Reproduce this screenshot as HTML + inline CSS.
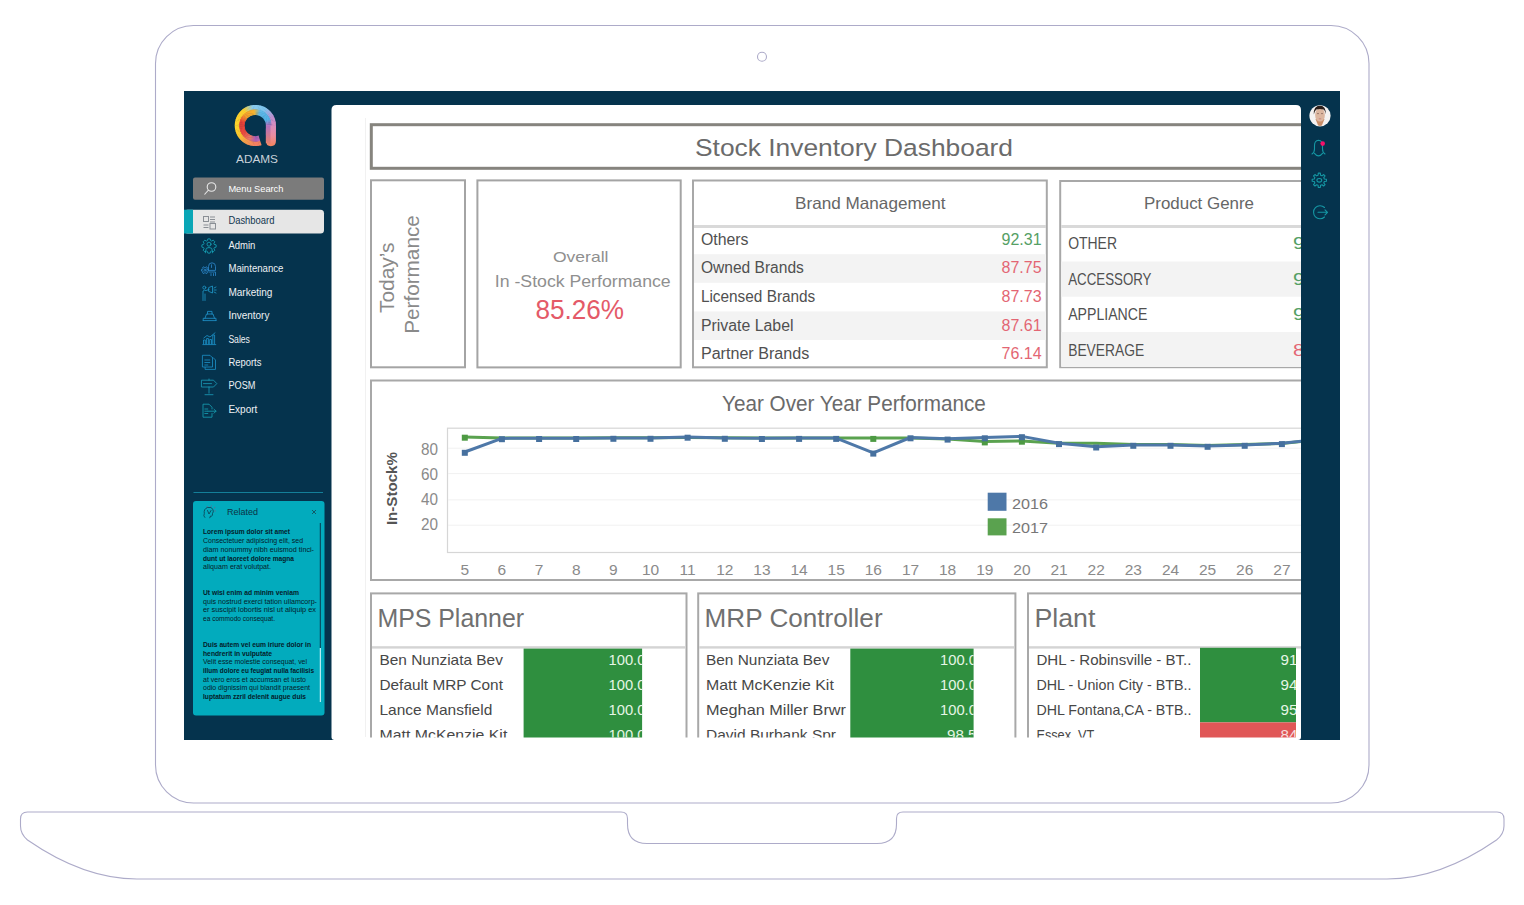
<!DOCTYPE html>
<html><head><meta charset="utf-8">
<style>
html,body{margin:0;padding:0;background:#fff;width:1524px;height:905px;overflow:hidden}
svg{display:block;font-family:"Liberation Sans",sans-serif}
</style></head>
<body>
<svg width="1524" height="905" viewBox="0 0 1524 905">
<defs>
<clipPath id="panelclip"><rect x="331.5" y="105" width="969.5" height="632.5"/></clipPath>
</defs>
<!-- laptop frame -->
<g fill="none" stroke="#adabc9" stroke-width="1.1">
<rect x="155.5" y="25.5" width="1213.5" height="777.5" rx="38"/>
<circle cx="762" cy="56.7" r="4.5"/>
<path d="M27.5 812 L621 812 Q627.5 812 627.5 818.5 L627.5 824 Q627.5 843.5 647 843.5 L877 843.5 Q896.5 843.5 896.5 824 L896.5 818.5 Q896.5 812 903 812 L1497 812 Q1504 812 1504 819 L1504 826 Q1504 834 1496.5 840 Q1440 879 1387 879 L137 879 Q84 879 27.5 840 Q20.5 834 20.5 826 L20.5 819 Q20.5 812 27.5 812 Z"/>
</g>
<!-- screen -->
<rect x="184" y="91" width="1156" height="649" fill="#05334d"/>

<!-- sidebar -->
<g id="logo">
<path d="M275.95 125.21 L275.88 127.22 L271.09 126.82 L271.15 125.28 Z" fill="#d98dbd"/>
<path d="M275.92 126.65 L275.71 128.65 L270.96 127.92 L271.13 126.38 Z" fill="#db8db9"/>
<path d="M275.79 128.08 L275.44 130.06 L270.76 129.00 L271.03 127.48 Z" fill="#de8db5"/>
<path d="M275.56 129.50 L275.07 131.45 L270.48 130.07 L270.85 128.57 Z" fill="#e08db1"/>
<path d="M275.23 130.90 L274.61 132.82 L270.12 131.11 L270.60 129.64 Z" fill="#e28dac"/>
<path d="M274.80 132.27 L274.05 134.14 L269.69 132.13 L270.27 130.70 Z" fill="#e58da8"/>
<path d="M274.28 133.62 L273.40 135.42 L269.20 133.11 L269.87 131.72 Z" fill="#e78da4"/>
<path d="M273.67 134.92 L272.67 136.66 L268.63 134.06 L269.40 132.72 Z" fill="#ea8da0"/>
<path d="M272.97 136.17 L271.85 137.84 L268.00 134.96 L268.86 133.68 Z" fill="#eb8b96"/>
<path d="M272.18 137.37 L270.94 138.96 L267.31 135.82 L268.26 134.61 Z" fill="#ec8a8d"/>
<path d="M271.31 138.52 L269.97 140.02 L266.56 136.63 L267.59 135.49 Z" fill="#ee8984"/>
<path d="M270.37 139.60 L268.92 141.00 L265.76 137.39 L266.87 136.32 Z" fill="#ef887b"/>
<path d="M269.35 140.61 L267.80 141.91 L264.90 138.09 L266.09 137.09 Z" fill="#f08772"/>
<path d="M268.26 141.55 L266.63 142.74 L264.00 138.72 L265.25 137.81 Z" fill="#f28569"/>
<path d="M267.11 142.42 L265.40 143.48 L263.06 139.29 L264.37 138.47 Z" fill="#f38460"/>
<path d="M265.90 143.19 L264.12 144.14 L262.08 139.80 L263.44 139.07 Z" fill="#f4835c"/>
<path d="M264.64 143.89 L262.80 144.71 L261.06 140.23 L262.47 139.60 Z" fill="#f4835d"/>
<path d="M263.33 144.49 L261.44 145.18 L260.02 140.59 L261.47 140.07 Z" fill="#f4825e"/>
<path d="M261.99 145.00 L260.05 145.56 L258.96 140.88 L260.44 140.46 Z" fill="#f4815e"/>
<path d="M260.61 145.42 L258.64 145.84 L257.88 141.10 L259.39 140.78 Z" fill="#f4815f"/>
<path d="M259.21 145.74 L257.22 146.02 L256.78 141.23 L258.31 141.02 Z" fill="#f48060"/>
<path d="M257.79 145.96 L255.78 146.10 L255.68 141.30 L257.22 141.19 Z" fill="#f47f61"/>
<path d="M256.36 146.08 L254.34 146.08 L254.58 141.28 L256.12 141.28 Z" fill="#f47f62"/>
<path d="M254.92 146.10 L252.91 145.96 L253.48 141.19 L255.02 141.30 Z" fill="#f4825f"/>
<path d="M253.48 146.02 L251.49 145.74 L252.39 141.02 L253.92 141.23 Z" fill="#f4865c"/>
<path d="M252.06 145.84 L250.09 145.42 L251.31 140.78 L252.82 141.10 Z" fill="#f48a59"/>
<path d="M250.65 145.56 L248.71 145.00 L250.26 140.46 L251.74 140.88 Z" fill="#f48e57"/>
<path d="M249.26 145.18 L247.37 144.49 L249.23 140.07 L250.68 140.59 Z" fill="#f59154"/>
<path d="M247.90 144.71 L246.06 143.89 L248.23 139.60 L249.64 140.23 Z" fill="#f59551"/>
<path d="M246.58 144.14 L244.80 143.19 L247.26 139.07 L248.62 139.80 Z" fill="#f5994e"/>
<path d="M245.30 143.48 L243.59 142.42 L246.33 138.47 L247.64 139.29 Z" fill="#f59d4c"/>
<path d="M244.07 142.74 L242.44 141.55 L245.45 137.81 L246.70 138.72 Z" fill="#f6a148"/>
<path d="M242.90 141.91 L241.35 140.61 L244.61 137.09 L245.80 138.09 Z" fill="#f7a844"/>
<path d="M241.78 141.00 L240.33 139.60 L243.83 136.32 L244.94 137.39 Z" fill="#f8ae3f"/>
<path d="M240.73 140.02 L239.39 138.52 L243.11 135.49 L244.14 136.63 Z" fill="#f9b43b"/>
<path d="M239.76 138.96 L238.52 137.37 L242.44 134.61 L243.39 135.82 Z" fill="#fabb36"/>
<path d="M238.85 137.84 L237.73 136.17 L241.84 133.68 L242.70 134.96 Z" fill="#fbc132"/>
<path d="M238.03 136.66 L237.03 134.92 L241.30 132.72 L242.07 134.06 Z" fill="#fcc82e"/>
<path d="M237.30 135.42 L236.42 133.62 L240.83 131.72 L241.50 133.11 Z" fill="#fcc92d"/>
<path d="M236.65 134.14 L235.90 132.27 L240.43 130.70 L241.01 132.13 Z" fill="#fccb2d"/>
<path d="M236.09 132.82 L235.47 130.90 L240.10 129.64 L240.58 131.11 Z" fill="#fccc2d"/>
<path d="M235.63 131.45 L235.14 129.50 L239.85 128.57 L240.22 130.07 Z" fill="#fcce2c"/>
<path d="M235.26 130.06 L234.91 128.08 L239.67 127.48 L239.94 129.00 Z" fill="#fcd02c"/>
<path d="M234.99 128.65 L234.78 126.65 L239.57 126.38 L239.74 127.92 Z" fill="#fcd12c"/>
<path d="M234.82 127.22 L234.75 125.21 L239.55 125.28 L239.61 126.82 Z" fill="#fcd32c"/>
<path d="M234.75 125.79 L234.82 123.78 L239.61 124.18 L239.55 125.72 Z" fill="#fdd32c"/>
<path d="M234.78 124.35 L234.99 122.35 L239.74 123.08 L239.57 124.62 Z" fill="#fdd32c"/>
<path d="M234.91 122.92 L235.26 120.94 L239.94 122.00 L239.67 123.52 Z" fill="#fdd32c"/>
<path d="M235.14 121.50 L235.63 119.55 L240.22 120.93 L239.85 122.43 Z" fill="#fdd22d"/>
<path d="M235.47 120.10 L236.09 118.18 L240.58 119.89 L240.10 121.36 Z" fill="#fdd22d"/>
<path d="M235.90 118.73 L236.65 116.86 L241.01 118.87 L240.43 120.30 Z" fill="#fdd22d"/>
<path d="M236.42 117.38 L237.30 115.58 L241.50 117.89 L240.83 119.28 Z" fill="#fdd22d"/>
<path d="M237.03 116.08 L238.03 114.34 L242.07 116.94 L241.30 118.28 Z" fill="#fdd12e"/>
<path d="M237.73 114.83 L238.85 113.16 L242.70 116.04 L241.84 117.32 Z" fill="#fdd12e"/>
<path d="M238.52 113.63 L239.76 112.04 L243.39 115.18 L242.44 116.39 Z" fill="#fdd12e"/>
<path d="M239.39 112.48 L240.73 110.98 L244.14 114.37 L243.11 115.51 Z" fill="#fdd02f"/>
<path d="M240.33 111.40 L241.78 110.00 L244.94 113.61 L243.83 114.68 Z" fill="#fdd02f"/>
<path d="M241.35 110.39 L242.90 109.09 L245.80 112.91 L244.61 113.91 Z" fill="#fdd02f"/>
<path d="M242.44 109.45 L244.07 108.26 L246.70 112.28 L245.45 113.19 Z" fill="#fdd02f"/>
<path d="M243.59 108.58 L245.30 107.52 L247.64 111.71 L246.33 112.53 Z" fill="#f0cf45"/>
<path d="M244.80 107.81 L246.58 106.86 L248.62 111.20 L247.26 111.93 Z" fill="#dfce61"/>
<path d="M246.06 107.11 L247.90 106.29 L249.64 110.77 L248.23 111.40 Z" fill="#cecd7d"/>
<path d="M247.37 106.51 L249.26 105.82 L250.68 110.41 L249.23 110.93 Z" fill="#bdcd99"/>
<path d="M248.71 106.00 L250.65 105.44 L251.74 110.12 L250.26 110.54 Z" fill="#acccb5"/>
<path d="M250.09 105.58 L252.06 105.16 L252.82 109.90 L251.31 110.22 Z" fill="#9bcbd1"/>
<path d="M251.49 105.26 L253.48 104.98 L253.92 109.77 L252.39 109.98 Z" fill="#8acbee"/>
<path d="M252.91 105.04 L254.92 104.90 L255.02 109.70 L253.48 109.81 Z" fill="#88caee"/>
<path d="M254.34 104.92 L256.36 104.92 L256.12 109.72 L254.58 109.72 Z" fill="#87c9ee"/>
<path d="M255.78 104.90 L257.79 105.04 L257.22 109.81 L255.68 109.70 Z" fill="#86c9ee"/>
<path d="M257.22 104.98 L259.21 105.26 L258.31 109.98 L256.78 109.77 Z" fill="#84c8ee"/>
<path d="M258.64 105.16 L260.61 105.58 L259.39 110.22 L257.88 109.90 Z" fill="#83c8ee"/>
<path d="M260.05 105.44 L261.99 106.00 L260.44 110.54 L258.96 110.12 Z" fill="#82c7ee"/>
<path d="M261.44 105.82 L263.33 106.51 L261.47 110.93 L260.02 110.41 Z" fill="#81c7ee"/>
<path d="M262.80 106.29 L264.64 107.11 L262.47 111.40 L261.06 110.77 Z" fill="#7fc6ee"/>
<path d="M264.12 106.86 L265.90 107.81 L263.44 111.93 L262.08 111.20 Z" fill="#7ec6ee"/>
<path d="M265.40 107.52 L267.11 108.58 L264.37 112.53 L263.06 111.71 Z" fill="#81c2ec"/>
<path d="M266.63 108.26 L268.26 109.45 L265.25 113.19 L264.00 112.28 Z" fill="#89bce8"/>
<path d="M267.80 109.09 L269.35 110.39 L266.09 113.91 L264.90 112.91 Z" fill="#90b6e5"/>
<path d="M268.92 110.00 L270.37 111.40 L266.87 114.68 L265.76 113.61 Z" fill="#98b0e2"/>
<path d="M269.97 110.98 L271.31 112.48 L267.59 115.51 L266.56 114.37 Z" fill="#9faade"/>
<path d="M270.94 112.04 L272.18 113.63 L268.26 116.39 L267.31 115.18 Z" fill="#a7a4db"/>
<path d="M271.85 113.16 L272.97 114.83 L268.86 117.32 L268.00 116.04 Z" fill="#af9dd7"/>
<path d="M272.67 114.34 L273.67 116.08 L269.40 118.28 L268.63 116.94 Z" fill="#b697d4"/>
<path d="M273.40 115.58 L274.28 117.38 L269.87 119.28 L269.20 117.89 Z" fill="#be91d0"/>
<path d="M274.05 116.86 L274.80 118.73 L270.27 120.30 L269.69 118.87 Z" fill="#c28fce"/>
<path d="M274.61 118.18 L275.23 120.10 L270.60 121.36 L270.12 119.89 Z" fill="#c68fcb"/>
<path d="M275.07 119.55 L275.56 121.50 L270.85 122.43 L270.48 120.93 Z" fill="#ca8fc8"/>
<path d="M275.44 120.94 L275.79 122.92 L271.03 123.52 L270.76 122.00 Z" fill="#ce8ec6"/>
<path d="M275.71 122.35 L275.92 124.35 L271.13 124.62 L270.96 123.08 Z" fill="#d28ec3"/>
<path d="M275.88 123.78 L275.95 125.79 L271.15 125.72 L271.09 124.18 Z" fill="#d68ec1"/>
<path d="M271.45 125.28 L271.39 126.85 L265.71 126.37 L265.75 125.35 Z" fill="#b070c0"/>
<path d="M271.42 126.40 L271.26 127.96 L265.63 127.09 L265.73 126.08 Z" fill="#b170c0"/>
<path d="M271.32 127.52 L271.05 129.07 L265.49 127.80 L265.67 126.80 Z" fill="#b270c0"/>
<path d="M271.14 128.63 L270.76 130.15 L265.31 128.51 L265.55 127.52 Z" fill="#b370c0"/>
<path d="M270.89 129.72 L270.40 131.22 L265.07 129.19 L265.39 128.23 Z" fill="#b471c0"/>
<path d="M270.55 130.79 L269.97 132.25 L264.79 129.86 L265.17 128.92 Z" fill="#b571c0"/>
<path d="M270.15 131.84 L269.46 133.26 L264.46 130.51 L264.91 129.60 Z" fill="#b671c0"/>
<path d="M269.67 132.86 L268.88 134.22 L264.09 131.13 L264.60 130.25 Z" fill="#b872c0"/>
<path d="M269.12 133.84 L268.24 135.14 L263.68 131.73 L264.25 130.89 Z" fill="#bb73bd"/>
<path d="M268.51 134.78 L267.54 136.02 L263.22 132.30 L263.85 131.49 Z" fill="#be75bb"/>
<path d="M267.83 135.68 L266.77 136.84 L262.73 132.83 L263.41 132.07 Z" fill="#c177b9"/>
<path d="M267.09 136.52 L265.95 137.61 L262.20 133.33 L262.93 132.62 Z" fill="#c479b7"/>
<path d="M266.29 137.31 L265.08 138.32 L261.64 133.78 L262.42 133.13 Z" fill="#c87bb5"/>
<path d="M265.44 138.05 L264.17 138.97 L261.04 134.20 L261.87 133.61 Z" fill="#cb7db3"/>
<path d="M264.54 138.72 L263.20 139.55 L260.42 134.58 L261.29 134.04 Z" fill="#ce7fb1"/>
<path d="M263.59 139.33 L262.21 140.07 L259.78 134.91 L260.68 134.43 Z" fill="#cd7db0"/>
<path d="M262.61 139.87 L261.17 140.51 L259.11 135.20 L260.04 134.78 Z" fill="#c878b1"/>
<path d="M261.59 140.34 L260.11 140.88 L258.43 135.43 L259.38 135.09 Z" fill="#c274b2"/>
<path d="M260.54 140.74 L259.03 141.17 L257.72 135.63 L258.70 135.35 Z" fill="#bd6fb3"/>
<path d="M259.46 141.07 L257.92 141.39 L257.01 135.77 L258.01 135.55 Z" fill="#b86ab4"/>
<path d="M258.37 141.31 L256.81 141.53 L256.29 135.86 L257.30 135.72 Z" fill="#b265b5"/>
<path d="M257.26 141.49 L255.69 141.60 L255.57 135.90 L256.58 135.83 Z" fill="#ad60b6"/>
<path d="M256.14 141.58 L254.56 141.58 L254.84 135.89 L255.86 135.89 Z" fill="#a85cb8"/>
<path d="M255.01 141.60 L253.44 141.49 L254.12 135.83 L255.13 135.90 Z" fill="#b360aa"/>
<path d="M253.89 141.53 L252.33 141.31 L253.40 135.72 L254.41 135.86 Z" fill="#be659d"/>
<path d="M252.78 141.39 L251.24 141.07 L252.69 135.55 L253.69 135.77 Z" fill="#ca6a90"/>
<path d="M251.67 141.17 L250.16 140.74 L252.00 135.35 L252.98 135.63 Z" fill="#d56f83"/>
<path d="M250.59 140.88 L249.11 140.34 L251.32 135.09 L252.27 135.43 Z" fill="#e07476"/>
<path d="M249.53 140.51 L248.09 139.87 L250.66 134.78 L251.59 135.20 Z" fill="#ec7869"/>
<path d="M248.49 140.07 L247.11 139.33 L250.02 134.43 L250.92 134.91 Z" fill="#ee7562"/>
<path d="M247.50 139.55 L246.16 138.72 L249.41 134.04 L250.28 134.58 Z" fill="#ee705e"/>
<path d="M246.53 138.97 L245.26 138.05 L248.83 133.61 L249.66 134.20 Z" fill="#ee6a59"/>
<path d="M245.62 138.32 L244.41 137.31 L248.28 133.13 L249.06 133.78 Z" fill="#ee6554"/>
<path d="M244.75 137.61 L243.61 136.52 L247.77 132.62 L248.50 133.33 Z" fill="#ee5f50"/>
<path d="M243.93 136.84 L242.87 135.68 L247.29 132.07 L247.97 132.83 Z" fill="#ee5a4b"/>
<path d="M243.16 136.02 L242.19 134.78 L246.85 131.49 L247.48 132.30 Z" fill="#ee5447"/>
<path d="M242.46 135.14 L241.58 133.84 L246.45 130.89 L247.02 131.73 Z" fill="#ee4f42"/>
<path d="M241.82 134.22 L241.03 132.86 L246.10 130.25 L246.61 131.13 Z" fill="#ee4a3e"/>
<path d="M241.24 133.26 L240.55 131.84 L245.79 129.60 L246.24 130.51 Z" fill="#ee493d"/>
<path d="M240.73 132.25 L240.15 130.79 L245.53 128.92 L245.91 129.86 Z" fill="#ee483c"/>
<path d="M240.30 131.22 L239.81 129.72 L245.31 128.23 L245.63 129.19 Z" fill="#ee473c"/>
<path d="M239.94 130.15 L239.56 128.63 L245.15 127.52 L245.39 128.51 Z" fill="#ee463b"/>
<path d="M239.65 129.07 L239.38 127.52 L245.03 126.80 L245.21 127.80 Z" fill="#ee453b"/>
<path d="M239.44 127.96 L239.28 126.40 L244.97 126.08 L245.07 127.09 Z" fill="#ee443a"/>
<path d="M239.31 126.85 L239.25 125.28 L244.95 125.35 L244.99 126.37 Z" fill="#ee433a"/>
<path d="M239.25 125.72 L239.31 124.15 L244.99 124.63 L244.95 125.65 Z" fill="#ee4239"/>
<path d="M239.28 124.60 L239.44 123.04 L245.07 123.91 L244.97 124.92 Z" fill="#ee4239"/>
<path d="M239.38 123.48 L239.65 121.93 L245.21 123.20 L245.03 124.20 Z" fill="#ee4138"/>
<path d="M239.56 122.37 L239.94 120.85 L245.39 122.49 L245.15 123.48 Z" fill="#ee4038"/>
<path d="M239.81 121.28 L240.30 119.78 L245.63 121.81 L245.31 122.77 Z" fill="#ef4936"/>
<path d="M240.15 120.21 L240.73 118.75 L245.91 121.14 L245.53 122.08 Z" fill="#f15635"/>
<path d="M240.55 119.16 L241.24 117.74 L246.24 120.49 L245.79 121.40 Z" fill="#f26333"/>
<path d="M241.03 118.14 L241.82 116.78 L246.61 119.87 L246.10 120.75 Z" fill="#f37032"/>
<path d="M241.58 117.16 L242.46 115.86 L247.02 119.27 L246.45 120.11 Z" fill="#f47c30"/>
<path d="M242.19 116.22 L243.16 114.98 L247.48 118.70 L246.85 119.51 Z" fill="#f5892e"/>
<path d="M242.87 115.32 L243.93 114.16 L247.97 118.17 L247.29 118.93 Z" fill="#f7962d"/>
<path d="M243.61 114.48 L244.75 113.39 L248.50 117.67 L247.77 118.38 Z" fill="#f8a02c"/>
<path d="M244.41 113.69 L245.62 112.68 L249.06 117.22 L248.28 117.87 Z" fill="#f8a22c"/>
<path d="M245.26 112.95 L246.53 112.03 L249.66 116.80 L248.83 117.39 Z" fill="#f8a42c"/>
<path d="M246.16 112.28 L247.50 111.45 L250.28 116.42 L249.41 116.96 Z" fill="#f8a62c"/>
<path d="M247.11 111.67 L248.49 110.93 L250.92 116.09 L250.02 116.57 Z" fill="#f8a82c"/>
<path d="M248.09 111.13 L249.53 110.49 L251.59 115.80 L250.66 116.22 Z" fill="#f8ab2d"/>
<path d="M249.11 110.66 L250.59 110.12 L252.27 115.57 L251.32 115.91 Z" fill="#f8ad2d"/>
<path d="M250.16 110.26 L251.67 109.83 L252.98 115.37 L252.00 115.65 Z" fill="#f8af2d"/>
<path d="M251.24 109.93 L252.78 109.61 L253.69 115.23 L252.69 115.45 Z" fill="#f8b12d"/>
<path d="M252.33 109.69 L253.89 109.47 L254.41 115.14 L253.40 115.28 Z" fill="#f8b32d"/>
<path d="M253.44 109.51 L255.01 109.40 L255.13 115.10 L254.12 115.17 Z" fill="#f2b535"/>
<path d="M254.56 109.42 L256.14 109.42 L255.86 115.11 L254.84 115.11 Z" fill="#dab653"/>
<path d="M255.69 109.40 L257.26 109.51 L256.58 115.17 L255.57 115.10 Z" fill="#c2b771"/>
<path d="M256.81 109.47 L258.37 109.69 L257.30 115.28 L256.29 115.14 Z" fill="#aab88f"/>
<path d="M257.92 109.61 L259.46 109.93 L258.01 115.45 L257.01 115.23 Z" fill="#92b9ad"/>
<path d="M259.03 109.83 L260.54 110.26 L258.70 115.65 L257.72 115.37 Z" fill="#7abacb"/>
<path d="M260.11 110.12 L261.59 110.66 L259.38 115.91 L258.43 115.57 Z" fill="#62bbea"/>
<path d="M261.17 110.49 L262.61 111.13 L260.04 116.22 L259.11 115.80 Z" fill="#60bae9"/>
<path d="M262.21 110.93 L263.59 111.67 L260.68 116.57 L259.78 116.09 Z" fill="#5fb9e9"/>
<path d="M263.20 111.45 L264.54 112.28 L261.29 116.96 L260.42 116.42 Z" fill="#5eb9e9"/>
<path d="M264.17 112.03 L265.44 112.95 L261.87 117.39 L261.04 116.80 Z" fill="#5db8e9"/>
<path d="M265.08 112.68 L266.29 113.69 L262.42 117.87 L261.64 117.22 Z" fill="#5cb8e9"/>
<path d="M265.95 113.39 L267.09 114.48 L262.93 118.38 L262.20 117.67 Z" fill="#5bb7e8"/>
<path d="M266.77 114.16 L267.83 115.32 L263.41 118.93 L262.73 118.17 Z" fill="#59b7e8"/>
<path d="M267.54 114.98 L268.51 116.22 L263.85 119.51 L263.22 118.70 Z" fill="#58b6e8"/>
<path d="M268.24 115.86 L269.12 117.16 L264.25 120.11 L263.68 119.27 Z" fill="#57b6e8"/>
<path d="M268.88 116.78 L269.67 118.14 L264.60 120.75 L264.09 119.87 Z" fill="#56b5e8"/>
<path d="M269.46 117.74 L270.15 119.16 L264.91 121.40 L264.46 120.49 Z" fill="#55b5e8"/>
<path d="M269.97 118.75 L270.55 120.21 L265.17 122.08 L264.79 121.14 Z" fill="#5face3"/>
<path d="M270.40 119.78 L270.89 121.28 L265.39 122.77 L265.07 121.81 Z" fill="#6ea1dc"/>
<path d="M270.76 120.85 L271.14 122.37 L265.55 123.48 L265.31 122.49 Z" fill="#7d96d6"/>
<path d="M271.05 121.93 L271.32 123.48 L265.67 124.20 L265.49 123.20 Z" fill="#8b8bd0"/>
<path d="M271.26 123.04 L271.42 124.60 L265.73 124.92 L265.63 123.91 Z" fill="#9a80c9"/>
<path d="M271.39 124.15 L271.45 125.72 L265.75 125.65 L265.71 124.63 Z" fill="#a875c3"/>
<linearGradient id="tailo" x1="0" y1="0" x2="0" y2="1"><stop offset="0" stop-color="#d88ec0"/><stop offset="0.5" stop-color="#ea8da0"/><stop offset="1" stop-color="#f4845c"/></linearGradient>
<linearGradient id="taili" x1="0" y1="0" x2="0" y2="1"><stop offset="0" stop-color="#b070c0"/><stop offset="1" stop-color="#e8806a"/></linearGradient>
<path d="M266 125.5 H275.95 V141 Q275.95 146.2 270.8 146.2 Q266 146.2 266 141 Z" fill="url(#tailo)"/>
<path d="M265.8 125.5 H270.5 V144 Q267.5 144 266 141 Z" fill="url(#taili)"/>
<circle cx="255.15" cy="125.7" r="10.5" fill="#05334d"/>
<path d="M258.5 135.6 L265.7 126 L265.9 147 L262.2 147 Z" fill="#05334d"/>
</g>
<text x="236" y="162.6" font-size="11.6" fill="#c9d2da" textLength="42" lengthAdjust="spacingAndGlyphs">ADAMS</text>
<rect x="193" y="177.5" width="131" height="22.3" rx="2" fill="#7b7b7b"/>
<g fill="none" stroke="#e8e8e8" stroke-width="1.1"><circle cx="211.5" cy="187" r="4.3"/><path d="M208.5 190 L204.5 194.5"/></g>
<text x="228.4" y="192" font-size="9.6" fill="#fff" textLength="55" lengthAdjust="spacingAndGlyphs">Menu Search</text>
<rect x="184" y="209.7" width="140" height="23.8" rx="3.5" fill="#e6e6e6"/>
<rect x="184" y="209.7" width="9" height="23.8" fill="#0aa6b6"/>
<g fill="none" stroke="#8a8f95" stroke-width="1"><rect x="203.5" y="216.5" width="5" height="5"/><path d="M210 217 h5 M210 219.5 h5 M210 222 h5 M203.5 225 h5 M203.5 227.5 h5"/><rect x="210" y="223.5" width="5.5" height="5.5"/></g>
<text x="228.4" y="223.8" font-size="10" fill="#123650" textLength="46" lengthAdjust="spacingAndGlyphs">Dashboard</text>
<text x="228.4" y="248.8" font-size="10" fill="#eef1f4" textLength="27.0" lengthAdjust="spacingAndGlyphs">Admin</text>
<text x="228.4" y="272.3" font-size="10" fill="#eef1f4" textLength="55.0" lengthAdjust="spacingAndGlyphs">Maintenance</text>
<text x="228.4" y="295.6" font-size="10" fill="#eef1f4" textLength="44.0" lengthAdjust="spacingAndGlyphs">Marketing</text>
<text x="228.4" y="319.3" font-size="10" fill="#eef1f4" textLength="41.0" lengthAdjust="spacingAndGlyphs">Inventory</text>
<text x="228.4" y="342.8" font-size="10" fill="#eef1f4" textLength="21.5" lengthAdjust="spacingAndGlyphs">Sales</text>
<text x="228.4" y="365.7" font-size="10" fill="#eef1f4" textLength="33.0" lengthAdjust="spacingAndGlyphs">Reports</text>
<text x="228.4" y="389.3" font-size="10" fill="#eef1f4" textLength="27.0" lengthAdjust="spacingAndGlyphs">POSM</text>
<text x="228.4" y="412.6" font-size="10" fill="#eef1f4" textLength="29.0" lengthAdjust="spacingAndGlyphs">Export</text>
<g fill="none" stroke-width="0.85" stroke-linecap="round" stroke-linejoin="round">
<g stroke="#15a2b6"><path d="M214.35 244.35 L216.11 244.85 L216.11 247.15 L214.35 247.65 L213.95 248.61 L214.84 250.22 L213.22 251.84 L211.61 250.95 L210.65 251.35 L210.15 253.11 L207.85 253.11 L207.35 251.35 L206.39 250.95 L204.78 251.84 L203.16 250.22 L204.05 248.61 L203.65 247.65 L201.89 247.15 L201.89 244.85 L203.65 244.35 L204.05 243.39 L203.16 241.78 L204.78 240.16 L206.39 241.05 L207.35 240.65 L207.85 238.89 L210.15 238.89 L210.65 240.65 L211.61 241.05 L213.22 240.16 L214.84 241.78 L213.95 243.39 Z"/><circle cx="209" cy="244.2" r="2"/><path d="M205.6 252.8 V250.5 Q205.6 247.5 209 247.5 Q212.4 247.5 212.4 250.5 V252.8"/></g>
<g stroke="#2a84c6"><path d="M208.5 270 V266.5 Q208.5 262.8 212 262.8 Q215.5 262.8 215.5 266.5 V270 Z M211.5 264.8 V267.5 M209 272 h6.5 v3.5 M211 275.6 v-2 M213.5 275.6 v-2"/><path d="M207.23 269.31 L208.50 269.34 L208.50 271.06 L207.23 271.09 L206.89 271.69 L207.49 272.80 L206.01 273.66 L205.34 272.58 L204.66 272.58 L203.99 273.66 L202.51 272.80 L203.11 271.69 L202.77 271.09 L201.50 271.06 L201.50 269.34 L202.77 269.31 L203.11 268.71 L202.51 267.60 L203.99 266.74 L204.66 267.82 L205.34 267.82 L206.01 266.74 L207.49 267.60 L206.89 268.71 Z" stroke="#2a84c6"/><circle cx="205" cy="270.2" r="1"/></g>
<g stroke="#1d93c3"><circle cx="204.3" cy="287.6" r="1.5"/><path d="M203 300.5 V291 Q204.3 289.8 206 290.5 L209 289.5 M205 300.5 V294 M209 287.5 L212.5 286 V293 L209 291.5 Z M214 288 l2 -1 M214 290 h2.2 M214 292 l2 1"/></g>
<g stroke="#1f90c8"><path d="M203.2 320.6 H216 M203.2 320.6 V318.3 H216 V320.6 M205 318.3 L206.5 314 H213 L214.5 318.3 M207.5 314 V311.4 H212 V314"/></g>
<g stroke="#1b8fc5"><path d="M202.8 344.6 H215.8 M203.5 344 V340 h1.8 v4 M206.6 344 V338.5 h1.8 v5.5 M209.7 344 V339.5 h1.8 v4.5 M212.8 344 V335 h1.8 v9 M203.8 338 L207 335.5 L210 337 L215 332.8"/></g>
<g stroke="#1b8cc2"><path d="M205.5 357.5 H213 L215.5 360 V369.4 H205.5 Z"/><path d="M202.8 355.3 H210 L212.5 357.8 V367 H202.8 Z" fill="#05334d"/><path d="M204.8 360 h5 M204.8 362.5 h5 M204.8 365 h3"/></g>
<g stroke="#1a98b5"><path d="M201.8 380.2 H213.5 L216.8 383.6 L213.5 387 H201.8 Z M209 379 V380.2 M209 387 V393.2 M205 394.7 H213 M203.5 383.6 h8"/></g>
<g stroke="#159db0"><path d="M212 409 V407.2 L209 404.2 H203 V417.2 H212 V413.5 M204.8 409 h3 M204.8 411.2 h3 M204.8 413.5 h3 M208 411.2 H216 M214 409.2 L216 411.2 L214 413.2"/></g>
</g>
<!-- related -->
<path d="M193.5 492.5 H323" stroke="#1688a2" stroke-width="0.9"/>
<rect x="193" y="501" width="131.5" height="214.6" rx="3" fill="#02abbd"/>
<g fill="none" stroke="#0d3a4c" stroke-width="0.8" stroke-linecap="round"><path d="M204.8 517.5 Q203 516 204.3 513.5 Q203.5 509 207.5 507.5 Q211.5 506.5 213 509.5 Q213.8 512 212.5 513.5 L212.3 515.5 Q211.5 516.5 210.5 516 L209.8 517.8"/><path d="M207.5 510.5 L209 514 L211 510.5"/></g><path d="M207.5 507 l-0.6 -1 M211 506.5 l0.5 -1 M214 508 l1.2 -0.5 M214.5 511 h1.2" stroke="#c0306a" stroke-width="0.6"/>
<text x="227" y="515.2" font-size="9" fill="#0c3344" textLength="31" lengthAdjust="spacingAndGlyphs">Related</text>
<path d="M312 510 l4 4 M316 510 l-4 4" stroke="#14505f" stroke-width="0.9"/>
<path d="M320.3 523 V648" stroke="#0a3a50" stroke-width="1"/>
<path d="M320.3 648 V702" stroke="#e6fbff" stroke-width="1"/>
<text x="203" y="534.3" font-size="7" fill="#041b2a" textLength="87" lengthAdjust="spacingAndGlyphs" font-weight="bold">Lorem ipsum dolor sit amet</text>
<text x="203" y="542.6" font-size="7" fill="#041b2a" textLength="100" lengthAdjust="spacingAndGlyphs">Consectetuer adipiscing elit, sed</text>
<text x="203" y="551.6" font-size="7" fill="#041b2a" textLength="111" lengthAdjust="spacingAndGlyphs">diam nonummy nibh euismod tinci-</text>
<text x="203" y="560.5" font-size="7" fill="#041b2a" textLength="91" lengthAdjust="spacingAndGlyphs" font-weight="bold">dunt ut laoreet dolore magna</text>
<text x="203" y="568.9" font-size="7" fill="#041b2a" textLength="68" lengthAdjust="spacingAndGlyphs">aliquam erat volutpat.</text>
<text x="203" y="594.9" font-size="7" fill="#041b2a" textLength="96" lengthAdjust="spacingAndGlyphs" font-weight="bold">Ut wisi enim ad minim veniam</text>
<text x="203" y="603.6" font-size="7" fill="#041b2a" textLength="114" lengthAdjust="spacingAndGlyphs">quis nostrud exerci tation ullamcorp-</text>
<text x="203" y="612.3" font-size="7" fill="#041b2a" textLength="113" lengthAdjust="spacingAndGlyphs">er suscipit lobortis nisl ut aliquip ex</text>
<text x="203" y="621.0" font-size="7" fill="#041b2a" textLength="72" lengthAdjust="spacingAndGlyphs">ea commodo consequat.</text>
<text x="203" y="647.0" font-size="7" fill="#041b2a" textLength="108" lengthAdjust="spacingAndGlyphs" font-weight="bold">Duis autem vel eum iriure dolor in</text>
<text x="203" y="655.6" font-size="7" fill="#041b2a" textLength="69" lengthAdjust="spacingAndGlyphs" font-weight="bold">hendrerit in vulputate</text>
<text x="203" y="664.3" font-size="7" fill="#041b2a" textLength="104" lengthAdjust="spacingAndGlyphs">Velit esse molestie consequat, vel</text>
<text x="203" y="673.0" font-size="7" fill="#041b2a" textLength="111" lengthAdjust="spacingAndGlyphs" font-weight="bold">illum dolore eu feugiat nulla facilisis</text>
<text x="203" y="681.7" font-size="7" fill="#041b2a" textLength="103" lengthAdjust="spacingAndGlyphs">at vero eros et accumsan et iusto</text>
<text x="203" y="690.4" font-size="7" fill="#041b2a" textLength="107" lengthAdjust="spacingAndGlyphs">odio dignissim qui blandit praesent</text>
<text x="203" y="699.0" font-size="7" fill="#041b2a" textLength="103" lengthAdjust="spacingAndGlyphs" font-weight="bold">luptatum zzril delenit augue duis</text>

<!-- right toolbar -->
<circle cx="1320" cy="115.8" r="10.6" fill="#f4f2f2"/>
<clipPath id="av"><circle cx="1320" cy="115.8" r="10.3"/></clipPath>
<g clip-path="url(#av)">
<path d="M1315.5 119 L1324.5 119 L1321.5 126.5 L1318.5 126.5 Z" fill="#c98d68"/>
<ellipse cx="1320" cy="115" rx="4.9" ry="6.6" fill="#dcb6a0"/>
<path d="M1313.8 114.5 Q1313.3 106 1320 105.6 Q1326.3 106 1325.6 114.5 Q1325 110 1323.5 109.6 Q1320 108.6 1316.3 109.6 Q1314.8 110.5 1313.8 114.5 Z" fill="#2b1d18"/>
<path d="M1317 113.6 h2 M1321 113.6 h2" stroke="#8a6a60" stroke-width="0.8"/>
<path d="M1318.8 118.8 h2.4" stroke="#c07a78" stroke-width="0.8"/>
</g>
<g fill="none" stroke="#1597a4" stroke-width="1.1" stroke-linecap="round" stroke-linejoin="round">
<path d="M1312 154 Q1314.5 152.5 1314.5 149 L1314.5 145.5 Q1314.5 140.5 1318.5 140.2 Q1322.5 140.5 1322.5 145.5 L1322.5 149 Q1322.5 152.5 1325 154 M1314.5 153.3 Q1318.5 158.5 1322.5 153.3"/>
<path d="M1324.35 179.06 L1326.43 179.30 L1326.43 181.30 L1324.35 181.54 L1323.75 183.00 L1325.05 184.63 L1323.63 186.05 L1322.00 184.75 L1320.54 185.35 L1320.30 187.43 L1318.30 187.43 L1318.06 185.35 L1316.60 184.75 L1314.97 186.05 L1313.55 184.63 L1314.85 183.00 L1314.25 181.54 L1312.17 181.30 L1312.17 179.30 L1314.25 179.06 L1314.85 177.60 L1313.55 175.97 L1314.97 174.55 L1316.60 175.85 L1318.06 175.25 L1318.30 173.17 L1320.30 173.17 L1320.54 175.25 L1322.00 175.85 L1323.63 174.55 L1325.05 175.97 L1323.75 177.60 Z"/>
<ellipse cx="1319.3" cy="180.3" rx="2.4" ry="1.8"/>
<path d="M1324.5 207.5 A6.5 6.5 0 1 0 1324.5 217 M1318 212.3 H1327.5 M1325 209.8 L1327.5 212.3 L1325 214.8"/>
</g>
<circle cx="1322.7" cy="143.6" r="2.3" fill="#f5106a"/>
<!-- white panel -->
<path d="M331.5 110 Q331.5 105 336.5 105 L1296 105 Q1301 105 1301 110 L1301 737 Q1301 740 1298 740 L334.5 740 Q331.5 740 331.5 737 Z" fill="#fff"/>
<g clip-path="url(#panelclip)">
<path d="M365.5 118 V737" stroke="#f1f1f1" stroke-width="1"/>
<rect x="371.3" y="124.7" width="960" height="43.6" fill="#fff" stroke="#86847e" stroke-width="3"/>
<text x="695.0" y="156.0" font-size="24.5" fill="#6b6b6b" textLength="318.0" lengthAdjust="spacingAndGlyphs">Stock Inventory Dashboard</text>
<rect x="371" y="180.3" width="94" height="187" fill="none" stroke="#a4a4a4" stroke-width="2"/>
<text transform="translate(393.6 277.8) rotate(-90)" font-size="20.5" fill="#8a8a8a" text-anchor="middle" textLength="70.5" lengthAdjust="spacingAndGlyphs">Today’s</text>
<text transform="translate(418.7 274.5) rotate(-90)" font-size="20.5" fill="#8a8a8a" text-anchor="middle" textLength="118.6" lengthAdjust="spacingAndGlyphs">Performance</text>
<rect x="477.4" y="180.4" width="203.3" height="187" fill="none" stroke="#a4a4a4" stroke-width="2"/>
<text x="553.0" y="261.7" font-size="15.0" fill="#8f8f8f" textLength="55.4" lengthAdjust="spacingAndGlyphs">Overall</text>
<text x="494.8" y="286.6" font-size="16.0" fill="#8f8f8f" textLength="175.9" lengthAdjust="spacingAndGlyphs">In -Stock  Performance</text>
<text x="535.5" y="319.4" font-size="27.5" fill="#e45a68" textLength="88.6" lengthAdjust="spacingAndGlyphs">85.26%</text>
<rect x="693" y="180.5" width="353.8" height="186.8" fill="none" stroke="#a8a8a8" stroke-width="2"/>
<text x="795.0" y="208.5" font-size="16.5" fill="#666" textLength="150.6" lengthAdjust="spacingAndGlyphs">Brand Management</text>
<rect x="694" y="225" width="352" height="3" fill="#d9d9d9"/>
<rect x="694" y="254.2" width="352" height="28.6" fill="#f3f3f3"/>
<rect x="694" y="311.4" width="352" height="28.6" fill="#f3f3f3"/>
<text x="700.9" y="244.7" font-size="16.0" fill="#505050" textLength="47.6" lengthAdjust="spacingAndGlyphs">Others</text>
<text x="1041.6" y="244.7" font-size="16.0" fill="#55a065" textLength="40.0" lengthAdjust="spacingAndGlyphs" text-anchor="end">92.31</text>
<text x="700.9" y="273.3" font-size="16.0" fill="#505050" textLength="103.0" lengthAdjust="spacingAndGlyphs">Owned Brands</text>
<text x="1041.6" y="273.3" font-size="16.0" fill="#e36673" textLength="40.0" lengthAdjust="spacingAndGlyphs" text-anchor="end">87.75</text>
<text x="700.9" y="301.9" font-size="16.0" fill="#505050" textLength="114.4" lengthAdjust="spacingAndGlyphs">Licensed Brands</text>
<text x="1041.6" y="301.9" font-size="16.0" fill="#e36673" textLength="40.0" lengthAdjust="spacingAndGlyphs" text-anchor="end">87.73</text>
<text x="700.9" y="330.5" font-size="16.0" fill="#505050" textLength="92.6" lengthAdjust="spacingAndGlyphs">Private Label</text>
<text x="1041.6" y="330.5" font-size="16.0" fill="#e36673" textLength="40.0" lengthAdjust="spacingAndGlyphs" text-anchor="end">87.61</text>
<text x="700.9" y="359.1" font-size="16.0" fill="#505050" textLength="108.3" lengthAdjust="spacingAndGlyphs">Partner Brands</text>
<text x="1041.6" y="359.1" font-size="16.0" fill="#e36673" textLength="40.0" lengthAdjust="spacingAndGlyphs" text-anchor="end">76.14</text>
<rect x="1060.2" y="181" width="300" height="186.2" fill="none" stroke="#a8a8a8" stroke-width="2"/>
<text x="1144.0" y="208.6" font-size="16.5" fill="#666" textLength="110.0" lengthAdjust="spacingAndGlyphs">Product Genre</text>
<rect x="1061.2" y="225" width="300" height="3" fill="#d9d9d9"/>
<rect x="1061.2" y="261.5" width="300" height="35.2" fill="#f3f3f3"/>
<rect x="1061.2" y="332" width="300" height="35" fill="#f3f3f3"/>
<text x="1068.2" y="248.7" font-size="16.5" fill="#505050" textLength="48.8" lengthAdjust="spacingAndGlyphs">OTHER</text>
<text x="1293.0" y="248.7" font-size="16.0" fill="#55a065" textLength="40.0" lengthAdjust="spacingAndGlyphs">92.1</text>
<text x="1068.2" y="284.6" font-size="16.5" fill="#505050" textLength="83.3" lengthAdjust="spacingAndGlyphs">ACCESSORY</text>
<text x="1293.0" y="284.6" font-size="16.0" fill="#55a065" textLength="40.0" lengthAdjust="spacingAndGlyphs">92.1</text>
<text x="1068.2" y="320.0" font-size="16.5" fill="#505050" textLength="79.2" lengthAdjust="spacingAndGlyphs">APPLIANCE</text>
<text x="1293.0" y="320.0" font-size="16.0" fill="#55a065" textLength="40.0" lengthAdjust="spacingAndGlyphs">92.1</text>
<text x="1068.2" y="356.0" font-size="16.5" fill="#505050" textLength="76.0" lengthAdjust="spacingAndGlyphs">BEVERAGE</text>
<text x="1293.0" y="356.0" font-size="16.0" fill="#e36673" textLength="40.0" lengthAdjust="spacingAndGlyphs">82.1</text>
<rect x="371" y="380.5" width="960" height="199.5" fill="none" stroke="#a8a8a8" stroke-width="2"/>
<text x="722.0" y="410.9" font-size="21.5" fill="#6a6a6a" textLength="263.8" lengthAdjust="spacingAndGlyphs">Year Over Year Performance</text>
<rect x="447.5" y="428.2" width="900" height="124.3" fill="none" stroke="#d6d6d6" stroke-width="1.2"/>
<path d="M448 448.2 H1310" stroke="#f1f1f1" stroke-width="1"/>
<path d="M448 473.6 H1310" stroke="#f1f1f1" stroke-width="1"/>
<path d="M448 499.9 H1310" stroke="#f1f1f1" stroke-width="1"/>
<path d="M448 525.2 H1310" stroke="#f1f1f1" stroke-width="1"/>
<text x="421.0" y="454.8" font-size="16.0" fill="#8a8a8a" textLength="17.0" lengthAdjust="spacingAndGlyphs">80</text>
<text x="421.0" y="479.9" font-size="16.0" fill="#8a8a8a" textLength="17.0" lengthAdjust="spacingAndGlyphs">60</text>
<text x="421.0" y="505.1" font-size="16.0" fill="#8a8a8a" textLength="17.0" lengthAdjust="spacingAndGlyphs">40</text>
<text x="421.0" y="530.3" font-size="16.0" fill="#8a8a8a" textLength="17.0" lengthAdjust="spacingAndGlyphs">20</text>
<text transform="translate(396.6 488.6) rotate(-90)" font-size="15.5" fill="#555" font-weight="bold" text-anchor="middle" textLength="73" lengthAdjust="spacingAndGlyphs">In-Stock%</text>
<text x="464.8" y="575.0" font-size="15.5" fill="#8a8a8a" text-anchor="middle">5</text>
<text x="501.9" y="575.0" font-size="15.5" fill="#8a8a8a" text-anchor="middle">6</text>
<text x="539.1" y="575.0" font-size="15.5" fill="#8a8a8a" text-anchor="middle">7</text>
<text x="576.2" y="575.0" font-size="15.5" fill="#8a8a8a" text-anchor="middle">8</text>
<text x="613.4" y="575.0" font-size="15.5" fill="#8a8a8a" text-anchor="middle">9</text>
<text x="650.5" y="575.0" font-size="15.5" fill="#8a8a8a" text-anchor="middle">10</text>
<text x="687.6" y="575.0" font-size="15.5" fill="#8a8a8a" text-anchor="middle">11</text>
<text x="724.8" y="575.0" font-size="15.5" fill="#8a8a8a" text-anchor="middle">12</text>
<text x="761.9" y="575.0" font-size="15.5" fill="#8a8a8a" text-anchor="middle">13</text>
<text x="799.1" y="575.0" font-size="15.5" fill="#8a8a8a" text-anchor="middle">14</text>
<text x="836.2" y="575.0" font-size="15.5" fill="#8a8a8a" text-anchor="middle">15</text>
<text x="873.3" y="575.0" font-size="15.5" fill="#8a8a8a" text-anchor="middle">16</text>
<text x="910.5" y="575.0" font-size="15.5" fill="#8a8a8a" text-anchor="middle">17</text>
<text x="947.6" y="575.0" font-size="15.5" fill="#8a8a8a" text-anchor="middle">18</text>
<text x="984.8" y="575.0" font-size="15.5" fill="#8a8a8a" text-anchor="middle">19</text>
<text x="1021.9" y="575.0" font-size="15.5" fill="#8a8a8a" text-anchor="middle">20</text>
<text x="1059.0" y="575.0" font-size="15.5" fill="#8a8a8a" text-anchor="middle">21</text>
<text x="1096.2" y="575.0" font-size="15.5" fill="#8a8a8a" text-anchor="middle">22</text>
<text x="1133.3" y="575.0" font-size="15.5" fill="#8a8a8a" text-anchor="middle">23</text>
<text x="1170.5" y="575.0" font-size="15.5" fill="#8a8a8a" text-anchor="middle">24</text>
<text x="1207.6" y="575.0" font-size="15.5" fill="#8a8a8a" text-anchor="middle">25</text>
<text x="1244.7" y="575.0" font-size="15.5" fill="#8a8a8a" text-anchor="middle">26</text>
<text x="1281.9" y="575.0" font-size="15.5" fill="#8a8a8a" text-anchor="middle">27</text>
<polyline points="464.8,436.9 501.9,437.9 539.1,437.9 576.2,437.9 613.4,437.8 650.5,437.8 687.6,437.5 724.8,437.8 761.9,437.9 799.1,437.9 836.2,438.0 873.3,438.1 910.5,438.1 947.6,439.0 984.8,441.6 1021.9,440.9 1059.0,443.3 1096.2,443.3 1133.3,444.5 1170.5,444.5 1207.6,445.5 1244.7,444.5 1281.9,443.5 1319.0,439.5" fill="none" stroke="#5aa24f" stroke-width="3" stroke-linejoin="round"/>
<rect x="461.8" y="434.7" width="6" height="6" fill="#4d9a43"/>
<rect x="870.3" y="435.9" width="6" height="6" fill="#4d9a43"/>
<rect x="981.8" y="439.4" width="6" height="6" fill="#4d9a43"/>
<rect x="1018.9" y="438.7" width="6" height="6" fill="#4d9a43"/>
<polyline points="464.8,452.0 501.9,438.4 539.1,438.2 576.2,438.2 613.4,438.0 650.5,438.0 687.6,436.9 724.8,438.0 761.9,438.2 799.1,438.1 836.2,438.1 873.3,452.8 910.5,437.5 947.6,438.8 984.8,437.5 1021.9,436.4 1059.0,443.3 1096.2,446.7 1133.3,445.0 1170.5,445.0 1207.6,446.0 1244.7,445.0 1281.9,443.3 1319.0,439.2" fill="none" stroke="#4e78a8" stroke-width="3" stroke-linejoin="round"/>
<rect x="461.8" y="449.8" width="6" height="6" fill="#46709e"/>
<rect x="498.9" y="436.2" width="6" height="6" fill="#46709e"/>
<rect x="536.1" y="436.0" width="6" height="6" fill="#46709e"/>
<rect x="573.2" y="436.0" width="6" height="6" fill="#46709e"/>
<rect x="610.4" y="435.8" width="6" height="6" fill="#46709e"/>
<rect x="647.5" y="435.8" width="6" height="6" fill="#46709e"/>
<rect x="684.6" y="434.7" width="6" height="6" fill="#46709e"/>
<rect x="721.8" y="435.8" width="6" height="6" fill="#46709e"/>
<rect x="758.9" y="436.0" width="6" height="6" fill="#46709e"/>
<rect x="796.1" y="435.9" width="6" height="6" fill="#46709e"/>
<rect x="833.2" y="435.9" width="6" height="6" fill="#46709e"/>
<rect x="870.3" y="450.6" width="6" height="6" fill="#46709e"/>
<rect x="907.5" y="435.3" width="6" height="6" fill="#46709e"/>
<rect x="944.6" y="436.6" width="6" height="6" fill="#46709e"/>
<rect x="981.8" y="435.3" width="6" height="6" fill="#46709e"/>
<rect x="1018.9" y="434.2" width="6" height="6" fill="#46709e"/>
<rect x="1056.0" y="441.1" width="6" height="6" fill="#46709e"/>
<rect x="1093.2" y="444.5" width="6" height="6" fill="#46709e"/>
<rect x="1130.3" y="442.8" width="6" height="6" fill="#46709e"/>
<rect x="1167.5" y="442.8" width="6" height="6" fill="#46709e"/>
<rect x="1204.6" y="443.8" width="6" height="6" fill="#46709e"/>
<rect x="1241.7" y="442.8" width="6" height="6" fill="#46709e"/>
<rect x="1278.9" y="441.1" width="6" height="6" fill="#46709e"/>
<rect x="1316.0" y="437.0" width="6" height="6" fill="#46709e"/>
<rect x="987.7" y="492.7" width="18.8" height="18.1" fill="#4e78a8"/>
<rect x="987.7" y="518.3" width="18.8" height="17.1" fill="#5aa24f"/>
<text x="1012.0" y="508.5" font-size="15.5" fill="#777" textLength="36.0" lengthAdjust="spacingAndGlyphs">2016</text>
<text x="1012.0" y="533.0" font-size="15.5" fill="#777" textLength="36.0" lengthAdjust="spacingAndGlyphs">2017</text>
<rect x="371.0" y="593.4" width="315.5" height="160" fill="none" stroke="#a8a8a8" stroke-width="2"/>
<text x="377.4" y="626.9" font-size="26.0" fill="#707070" textLength="146.7" lengthAdjust="spacingAndGlyphs">MPS Planner</text>
<rect x="372.0" y="646.2" width="313.5" height="2.4" fill="#d4d4d4"/>
<rect x="698.2" y="593.4" width="317.2" height="160" fill="none" stroke="#a8a8a8" stroke-width="2"/>
<text x="704.6" y="626.9" font-size="26.0" fill="#707070" textLength="178.0" lengthAdjust="spacingAndGlyphs">MRP Controller</text>
<rect x="699.2" y="646.2" width="315.2" height="2.4" fill="#d4d4d4"/>
<rect x="1028.0" y="593.4" width="371.0" height="160" fill="none" stroke="#a8a8a8" stroke-width="2"/>
<text x="1034.4" y="626.9" font-size="26.0" fill="#707070" textLength="61.0" lengthAdjust="spacingAndGlyphs">Plant</text>
<rect x="1029.0" y="646.2" width="369.0" height="2.4" fill="#d4d4d4"/>
<rect x="523.6" y="648.6" width="118.5" height="91.4" fill="#2f8f3f"/>
<rect x="850.3" y="648.6" width="123.3" height="91.4" fill="#2f8f3f"/>
<rect x="1200" y="647.8" width="96" height="74.6" fill="#2f8f3f"/>
<rect x="1200" y="722.4" width="96" height="17.6" fill="#e05757"/>
<text x="379.5" y="664.6" font-size="14.8" fill="#474747" textLength="123.4" lengthAdjust="spacingAndGlyphs">Ben Nunziata Bev</text>
<text x="706.0" y="664.6" font-size="14.8" fill="#474747" textLength="123.4" lengthAdjust="spacingAndGlyphs">Ben Nunziata Bev</text>
<text x="1036.4" y="664.6" font-size="14.8" fill="#474747" textLength="155.0" lengthAdjust="spacingAndGlyphs">DHL - Robinsville - BT..</text>
<text x="379.5" y="689.8" font-size="14.8" fill="#474747" textLength="123.4" lengthAdjust="spacingAndGlyphs">Default MRP Cont</text>
<text x="706.0" y="689.8" font-size="14.8" fill="#474747" textLength="127.8" lengthAdjust="spacingAndGlyphs">Matt McKenzie Kit</text>
<text x="1036.4" y="689.8" font-size="14.8" fill="#474747" textLength="155.0" lengthAdjust="spacingAndGlyphs">DHL - Union City - BTB..</text>
<text x="379.5" y="715.0" font-size="14.8" fill="#474747" textLength="112.8" lengthAdjust="spacingAndGlyphs">Lance Mansfield</text>
<text x="706.0" y="715.0" font-size="14.8" fill="#474747" textLength="140.0" lengthAdjust="spacingAndGlyphs">Meghan Miller Brwr</text>
<text x="1036.4" y="715.0" font-size="14.8" fill="#474747" textLength="155.0" lengthAdjust="spacingAndGlyphs">DHL Fontana,CA - BTB..</text>
<text x="379.5" y="740.2" font-size="14.8" fill="#474747" textLength="127.8" lengthAdjust="spacingAndGlyphs">Matt McKenzie Kit</text>
<text x="706.0" y="740.2" font-size="14.8" fill="#474747" textLength="130.0" lengthAdjust="spacingAndGlyphs">David Burbank Spr</text>
<text x="1036.4" y="740.2" font-size="14.8" fill="#474747" textLength="58.0" lengthAdjust="spacingAndGlyphs">Essex, VT</text>
<clipPath id="c1"><rect x="523" y="648" width="119" height="92"/></clipPath>
<clipPath id="c2"><rect x="850" y="648" width="123.6" height="92"/></clipPath>
<clipPath id="c3"><rect x="1200" y="648" width="96" height="92"/></clipPath>
<g clip-path="url(#c1)" fill="#e6f6e6">
<text x="608.5" y="664.6" font-size="14.8" fill="#e6f6e6" textLength="50.0" lengthAdjust="spacingAndGlyphs">100.0%</text>
<text x="608.5" y="689.8" font-size="14.8" fill="#e6f6e6" textLength="50.0" lengthAdjust="spacingAndGlyphs">100.0%</text>
<text x="608.5" y="715.0" font-size="14.8" fill="#e6f6e6" textLength="50.0" lengthAdjust="spacingAndGlyphs">100.0%</text>
<text x="608.5" y="740.2" font-size="14.8" fill="#e6f6e6" textLength="50.0" lengthAdjust="spacingAndGlyphs">100.0%</text>
</g><g clip-path="url(#c2)">
<text x="940.0" y="664.6" font-size="14.8" fill="#e6f6e6" textLength="50.0" lengthAdjust="spacingAndGlyphs">100.0%</text>
<text x="940.0" y="689.8" font-size="14.8" fill="#e6f6e6" textLength="50.0" lengthAdjust="spacingAndGlyphs">100.0%</text>
<text x="940.0" y="715.0" font-size="14.8" fill="#e6f6e6" textLength="50.0" lengthAdjust="spacingAndGlyphs">100.0%</text>
<text x="947.0" y="740.2" font-size="14.8" fill="#e6f6e6" textLength="43.0" lengthAdjust="spacingAndGlyphs">98.5%</text>
</g><g clip-path="url(#c3)">
<text x="1280.5" y="664.6" font-size="14.8" fill="#e6f6e6" textLength="43.0" lengthAdjust="spacingAndGlyphs">91.2%</text>
<text x="1280.5" y="689.8" font-size="14.8" fill="#e6f6e6" textLength="43.0" lengthAdjust="spacingAndGlyphs">94.1%</text>
<text x="1280.5" y="715.0" font-size="14.8" fill="#e6f6e6" textLength="43.0" lengthAdjust="spacingAndGlyphs">95.3%</text>
<text x="1280.5" y="740.2" font-size="14.8" fill="#f6dede" textLength="43.0" lengthAdjust="spacingAndGlyphs">84.0%</text>
</g>
</g>

</svg>
</body></html>
